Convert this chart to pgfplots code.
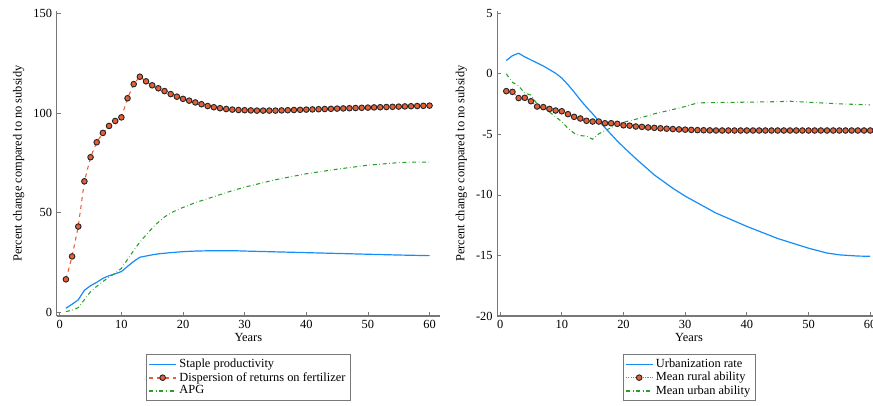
\documentclass[border=0pt]{standalone}
\usepackage{pgfplots}
\pgfplotsset{compat=1.18}
\usepackage{fontspec}
\setmainfont{Liberation Serif}

\definecolor{cblue}{RGB}{20,140,250}
\definecolor{cred}{RGB}{230,95,55}
\definecolor{cgreen}{RGB}{40,160,40}
\definecolor{caxis}{RGB}{120,120,120}

\pgfplotsset{
  panel/.style={
    scale only axis,
    width=287.5pt, height=228.75pt,
    axis lines=left,
    axis line style={-, draw=caxis, line width=0.8pt},
    tick align=inside,
    major tick length=3pt,
    tick style={draw=caxis, line width=0.6pt},
    xtick={0,10,...,60},
    font=\fontsize{9.3}{10}\selectfont,
    /pgf/number format/assume math mode=true,
    xlabel={Years},
    ylabel={Percent change compared to no subsidy},
    xlabel style={yshift=4pt},
    legend style={
      at={(0.5,0)}, anchor=north, yshift=-28.5pt,
      draw=caxis, line width=0.6pt, sharp corners,
      font=\fontsize{9.3}{9.4}\selectfont,
      inner xsep=1.5pt, inner ysep=1.5pt,
      row sep=-2pt,
      cells={anchor=west},
    },
    legend image code/.code={
      \draw[#1, mark=none, line width=1.2pt] plot coordinates {(0pt,0pt) (20pt,0pt)};
      \draw[#1, only marks] plot coordinates {(10pt,0pt)};
    },
  },
}

\begin{document}
\begin{tikzpicture}
\useasboundingbox (0,0) rectangle (654.75pt,304.5pt);

% left panel
\begin{axis}[panel,
  at={(42.5pt,67.5pt)}, anchor=south west,
  xmin=-0.5, xmax=61.7,
  ymin=-1.9, ymax=151.2,
  ytick={0,50,100,150},
]
\addplot[cblue, line width=0.9pt] coordinates {
(1,2) (2,4) (3,6.2) (4,11) (5,13.3) (6,15) (7,17) (8,18.3) (9,19.3) (10,20.4)
(11,23) (12,25.5) (13,27.6) (14,28.2) (15,28.8) (16,29.3) (18,29.9) (20,30.4)
(22,30.7) (25,30.9) (28,30.9) (30,30.7) (35,30.3) (40,29.9) (45,29.5) (50,29.1)
(55,28.7) (60,28.4)
};
\addlegendentry{Staple productivity}
\addplot[cred, dashed, line width=0.8pt, mark=*, mark size=2.1pt,
  mark options={solid, fill=cred, draw=black!85, line width=0.7pt}] coordinates {
(1,16.5) (2,28) (3,43) (4,65.7) (5,77.8) (6,85.3) (7,90) (8,93.5) (9,96) (10,97.8)
(11,107.4) (12,114.5) (13,118.2) (14,115.9) (15,113.9) (16,112.4) (17,111) (18,109.5)
(19,108.2) (20,107.1) (21,106.2) (22,105.3) (23,104.4) (24,103.5) (25,102.9) (26,102.4)
(27,102.0) (28,101.7) (29,101.5) (30,101.4) (31,101.3) (32,101.2) (33,101.2) (34,101.2)
(35,101.2) (36,101.3) (37,101.4) (38,101.5) (39,101.6) (40,101.7) (41,101.8) (42,101.9)
(43,102.0) (44,102.1) (45,102.2) (46,102.3) (47,102.4) (48,102.5) (49,102.6) (50,102.7)
(51,102.8) (52,102.9) (53,103.0) (54,103.1) (55,103.2) (56,103.3) (57,103.4) (58,103.5)
(59,103.6) (60,103.7)
};
\addlegendentry{Dispersion of returns on fertilizer}
\addplot[cgreen, dash dot, line width=0.8pt] coordinates {
(1,0.3) (2,1) (3,2.3) (4,6.3) (5,10.3) (6,13) (7,15.4) (8,17.6) (9,19.6) (10,22)
(11,26.5) (12,31) (13,35.2) (14,38.8) (15,42.2) (16,45.2) (17,47.8) (18,49.8)
(19,51.3) (20,52.6) (22,55) (25,58) (28,61) (30,62.8) (35,66.5) (40,69.5)
(45,71.8) (50,73.8) (55,75.1) (58,75.4) (60,75.3)
};
\addlegendentry{APG}
\end{axis}

% right panel
\begin{axis}[panel,
  at={(373pt,67.5pt)}, anchor=south west,
  xmin=-0.45, xmax=61.7,
  ymin=-20, ymax=5.19,
  ytick={-20,-15,...,5},
]
\addplot[cblue, line width=0.9pt] coordinates {
(1,1.1) (2,1.5) (3,1.7) (4,1.4) (5,1.15) (6,0.9) (7,0.65) (8,0.35) (9,0.05) (10,-0.35)
(11,-0.9) (12,-1.5) (13,-2.15) (14,-2.75) (15,-3.3) (16,-3.9) (17,-4.45) (18,-5.0)
(19,-5.55) (20,-6.05) (22,-7.0) (25,-8.35) (28,-9.45) (30,-10.1) (35,-11.5) (40,-12.6)
(45,-13.6) (50,-14.4) (53,-14.8) (55,-14.95) (58,-15.05) (60,-15.07)
};
\addlegendentry{Urbanization rate}
\addplot[cred, densely dotted, line width=0.8pt, mark=*, mark size=2.1pt,
  mark options={solid, fill=cred, draw=black!85, line width=0.7pt}] coordinates {
(1,-1.43) (2,-1.49) (3,-2.0) (4,-1.98) (5,-2.26) (6,-2.7) (7,-2.75) (8,-2.9) (9,-3.03) (10,-3.09)
(11,-3.33) (12,-3.55) (13,-3.69) (14,-3.88) (15,-3.94) (16,-3.94) (17,-4.08) (18,-4.08)
(19,-4.13) (20,-4.25) (21,-4.28) (22,-4.35) (23,-4.38) (24,-4.43) (25,-4.46) (26,-4.5)
(27,-4.53) (28,-4.56) (29,-4.59) (30,-4.61) (31,-4.63) (32,-4.65) (33,-4.66) (34,-4.67)
(35,-4.68) (36,-4.68) (37,-4.68) (38,-4.68) (39,-4.68) (40,-4.68) (41,-4.68) (42,-4.68)
(43,-4.68) (44,-4.68) (45,-4.68) (46,-4.68) (47,-4.68) (48,-4.68) (49,-4.68) (50,-4.68)
(51,-4.68) (52,-4.68) (53,-4.68) (54,-4.68) (55,-4.68) (56,-4.68) (57,-4.68) (58,-4.68)
(59,-4.68) (60,-4.68)
};
\addlegendentry{Mean rural ability}
\addplot[cgreen, dash dot, line width=0.8pt] coordinates {
(1,0) (2,-0.7) (3,-1.0) (4,-1.6) (5,-1.75) (6,-2.5) (7,-2.8) (8,-3.15) (9,-3.55) (10,-3.95)
(11,-4.5) (12,-4.9) (13,-5.1) (14,-5.15) (15,-5.4) (16,-4.95) (17,-4.7) (18,-4.45)
(19,-4.2) (20,-4.0) (22,-3.75) (25,-3.3) (28,-2.95) (30,-2.7) (32,-2.4) (35,-2.37)
(40,-2.34) (45,-2.3) (47,-2.26) (50,-2.35) (55,-2.48) (60,-2.56)
};
\addlegendentry{Mean urban ability}
\end{axis}
\end{tikzpicture}
\end{document}
